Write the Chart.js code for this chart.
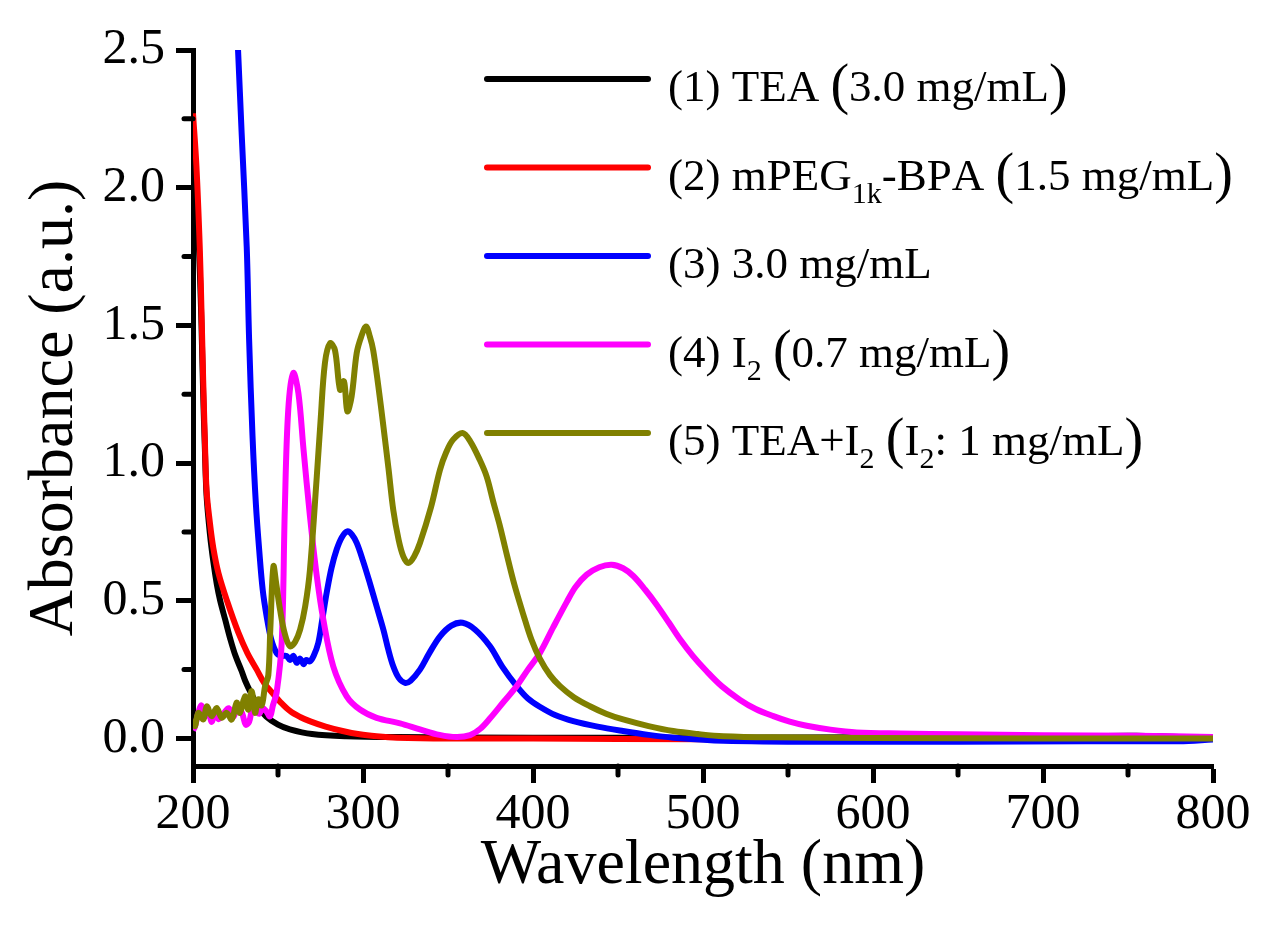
<!DOCTYPE html>
<html>
<head>
<meta charset="utf-8">
<title>UV-Vis absorbance</title>
<script src="https://cdn.jsdelivr.net/npm/chart.js@4.4.1/dist/chart.umd.min.js"></script>
<style>
  html, body { margin: 0; padding: 0; background: #fff; }
  canvas { display: block; }
</style>
</head>
<body>
<canvas id="myChart" width="1282" height="928"></canvas>
<script>
// tick values
const xTicks = [200, 300, 400, 500, 600, 700, 800];
const xMinor = [250, 350, 450, 550, 650, 750];
const yTicks = [0, 0.5, 1.0, 1.5, 2.0, 2.5];
const yMinor = [0.25, 0.75, 1.25, 1.75, 2.25];

const seriesLabels = [
  "(1) TEA (3.0 mg/mL)",
  "(2) mPEG_1k-BPA (1.5 mg/mL)",
  "(3) 3.0 mg/mL",
  "(4) I_2 (0.7 mg/mL)",
  "(5) TEA+I_2 (I_2: 1 mg/mL)"
];
const seriesColors = ["#000000", "#ff0000", "#0000ff", "#ff00ff", "#808000"];

// (1) TEA
const teaX = [200, 202, 204, 205, 206, 207, 208, 210, 212, 214, 216, 219, 222, 225, 228.6, 231, 234.5, 239, 243, 250, 257, 270, 290, 320, 400, 500, 600, 700, 755, 800];
const teaY = [2.2, 2.0, 1.7, 1.5, 1.25, 1.05, 0.88, 0.74, 0.64, 0.56, 0.5, 0.43, 0.36, 0.3, 0.245, 0.205, 0.16, 0.11, 0.08, 0.05, 0.033, 0.016, 0.008, 0.005, 0.003, 0.003, 0.004, 0.006, 0.01, 0.0];

// (2) mPEG1k-BPA
const pegX = [200, 202, 204, 205, 206, 207, 208, 210, 212, 215, 220, 226.7, 232, 237.5, 242, 247, 251, 257, 263, 269, 278, 288, 298, 308, 320, 350, 400, 500, 600, 700, 800];
const pegY = [2.27, 2.08, 1.78, 1.55, 1.3, 1.08, 0.9, 0.78, 0.69, 0.6, 0.5, 0.384, 0.31, 0.25, 0.2, 0.163, 0.135, 0.1, 0.078, 0.062, 0.043, 0.027, 0.015, 0.008, 0.003, 0.0, 0.0, -0.003, -0.002, 0.0, 0.0];

// (3) 3.0 mg/mL
const sampX = [225, 226.5, 228.6, 231.6, 233, 235, 237, 239, 241, 243.3, 246, 249.2, 252, 255, 257, 259, 261, 263, 265, 266.5, 268.8, 271, 273.7, 276, 278.6, 281.5, 284.5, 287.5, 290.8, 293.5, 296.3, 300, 304, 308, 312, 315, 317.8, 321, 324.7, 328, 333.5, 339, 345.3, 352, 358.6, 366, 374.7, 382, 390.4, 397, 404, 413, 423.7, 438, 453, 468, 482.5, 512, 580, 650, 725, 780, 800];
const sampY = [2.7, 2.5, 2.2, 1.785, 1.45, 1.1, 0.85, 0.68, 0.54, 0.444, 0.36, 0.31, 0.3, 0.3, 0.285, 0.3, 0.275, 0.29, 0.27, 0.285, 0.28, 0.3, 0.347, 0.43, 0.528, 0.62, 0.686, 0.73, 0.752, 0.74, 0.71, 0.645, 0.565, 0.48, 0.395, 0.32, 0.262, 0.22, 0.202, 0.21, 0.25, 0.31, 0.371, 0.41, 0.42, 0.395, 0.335, 0.26, 0.19, 0.145, 0.115, 0.085, 0.063, 0.043, 0.027, 0.013, 0.003, -0.008, -0.012, -0.012, -0.01, -0.01, -0.004];

// (4) I2
const iodX = [200, 201, 203, 205, 207, 209, 211, 213, 215, 218, 221, 224, 226, 229, 231, 233, 235, 237, 239, 241, 243, 245.3, 247, 249.2, 252.2, 254, 256, 259, 262, 265, 268.8, 272.8, 276.7, 282.5, 290.4, 298.2, 308, 321.8, 333.5, 345, 355, 363, 369, 375, 383, 390.4, 397, 404, 412, 419.8, 425, 431.6, 439, 446.3, 453, 459, 466, 472.8, 480, 486.5, 494, 502, 511, 521.8, 531, 541.4, 551, 561, 575, 590.4, 616, 651, 700, 754, 800];
const iodY = [0.03, 0.04, 0.09, 0.12, 0.08, 0.1, 0.06, 0.1, 0.07, 0.09, 0.11, 0.08, 0.12, 0.09, 0.05, 0.06, 0.11, 0.1, 0.09, 0.11, 0.1, 0.08, 0.12, 0.167, 0.35, 0.83, 1.19, 1.327, 1.254, 1.05, 0.807, 0.59, 0.43, 0.262, 0.153, 0.105, 0.075, 0.055, 0.033, 0.013, 0.005, 0.012, 0.035, 0.075, 0.135, 0.19, 0.25, 0.31, 0.405, 0.495, 0.55, 0.595, 0.622, 0.631, 0.618, 0.59, 0.54, 0.485, 0.42, 0.36, 0.3, 0.245, 0.19, 0.14, 0.107, 0.081, 0.061, 0.046, 0.032, 0.022, 0.018, 0.015, 0.012, 0.01, 0.005];

// (5) TEA+I2
const mixX = [200, 201.2, 203.1, 206.1, 208.1, 211, 213.9, 216.9, 219.8, 222.8, 225.7, 227.6, 230.6, 232.5, 234.5, 236.5, 238.4, 240.4, 242.4, 244.3, 245.5, 247.3, 249, 251.2, 254, 257, 260, 263, 266, 268.8, 272.8, 275, 277.6, 280.6, 283.5, 286.5, 288.8, 290.8, 293.3, 296.3, 299, 301.8, 304, 306, 309, 312, 315, 317.8, 321, 323.7, 326.6, 330, 333.5, 340, 345.3, 349, 353, 358.6, 363, 368.8, 372.8, 376.6, 380.6, 384.5, 389, 394.3, 399, 404, 410, 415.9, 424, 433.5, 443, 453, 468, 482.5, 497, 512, 541, 600, 700, 800];
const mixY = [0.07, 0.045, 0.093, 0.069, 0.117, 0.081, 0.111, 0.075, 0.093, 0.069, 0.13, 0.093, 0.153, 0.105, 0.172, 0.093, 0.142, 0.12, 0.19, 0.23, 0.4, 0.625, 0.56, 0.468, 0.38, 0.335, 0.35, 0.395, 0.48, 0.613, 0.95, 1.15, 1.363, 1.435, 1.41, 1.266, 1.297, 1.188, 1.242, 1.4, 1.46, 1.496, 1.46, 1.41, 1.28, 1.133, 0.98, 0.83, 0.72, 0.661, 0.637, 0.66, 0.71, 0.84, 0.976, 1.04, 1.085, 1.109, 1.08, 1.01, 0.95, 0.86, 0.77, 0.67, 0.56, 0.45, 0.36, 0.29, 0.23, 0.19, 0.15, 0.117, 0.09, 0.069, 0.045, 0.027, 0.016, 0.008, 0.004, 0.002, 0.0, 0.0];

const seriesX = [teaX, pegX, sampX, iodX, mixX];
const seriesY = [teaY, pegY, sampY, iodY, mixY];

const serif = "'Liberation Serif', 'Times New Roman', serif";
Chart.defaults.font.family = serif;
Chart.defaults.color = "#000";

function toPoints(xs, ys) {
  return xs.map((x, i) => ({ x: x, y: ys[i] }));
}

// legend drawn by hand so the subscripts and tall brackets come out right
const legendPlugin = {
  id: "subLegend",
  afterDraw(chart) {
    const ctx = chart.ctx;
    const x0 = 487, x1 = 648, tx = 668;
    ctx.save();
    chart.data.datasets.forEach((ds, i) => {
      const y = 79 + i * 88.5;
      ctx.strokeStyle = ds.borderColor;
      ctx.lineWidth = 6;
      ctx.lineCap = "round";
      ctx.beginPath();
      ctx.moveTo(x0, y);
      ctx.lineTo(x1, y);
      ctx.stroke();

      const base = y + 22;
      let cx = tx;
      ctx.fillStyle = "#000";
      ctx.textBaseline = "alphabetic";
      const parts = ds.label.split(/_([0-9a-z]+)/);
      parts.forEach((part, k) => {
        if (k % 2 === 1) {
          ctx.font = "30px " + serif;
          ctx.fillText(part, cx, base + 13);
          cx += ctx.measureText(part).width;
          return;
        }
        for (let c = 0; c < part.length; c++) {
          const ch = part[c];
          const big = (ch === "(" || ch === ")") && !(k === 0 && c < 3);
          ctx.font = (big ? "56px " : "45px ") + serif;
          ctx.fillText(ch, cx, big ? base + 2 : base);
          cx += ctx.measureText(ch).width;
        }
      });
    });
    ctx.restore();
  }
};

const minorTicks = {
  id: "minorTicks",
  afterDraw(chart) {
    const ctx = chart.ctx;
    const xs = chart.scales.x, ys = chart.scales.y;
    const area = chart.chartArea;
    ctx.save();
    ctx.strokeStyle = "#000";
    ctx.lineWidth = 5;
    ctx.lineCap = "round";
    xMinor.forEach(v => {
      const px = xs.getPixelForValue(v);
      ctx.beginPath();
      ctx.moveTo(px, area.bottom);
      ctx.lineTo(px, area.bottom + 9);
      ctx.stroke();
    });
    yMinor.forEach(v => {
      const py = ys.getPixelForValue(v);
      ctx.beginPath();
      ctx.moveTo(area.left, py);
      ctx.lineTo(area.left - 9, py);
      ctx.stroke();
    });
    ctx.restore();
  }
};

let ctx = document.getElementById("myChart");
let myChart = new Chart(ctx, {
  type: "line",
  data: {
    datasets: seriesLabels.map((label, i) => ({
      label: label,
      data: toPoints(seriesX[i], seriesY[i]),
      borderColor: seriesColors[i],
      backgroundColor: seriesColors[i],
      borderWidth: 6,
      pointRadius: 0,
      tension: 0.35,
      fill: false,
      order: seriesLabels.length - i
    }))
  },
  options: {
    responsive: false,
    devicePixelRatio: 1,
    animation: false,
    layout: { padding: { top: 50, right: 69, left: 0, bottom: 0 } },
    plugins: {
      legend: { display: false },
      tooltip: { enabled: false }
    },
    scales: {
      x: {
        type: "linear",
        min: 200,
        max: 800,
        afterBuildTicks: (s) => { s.ticks = xTicks.map(v => ({ value: v })); },
        afterFit: (s) => { s.height = 162; },
        ticks: { font: { size: 50 }, color: "#000", padding: 2, maxRotation: 0, autoSkip: false },
        grid: { drawOnChartArea: false, drawTicks: true, tickLength: 17, tickWidth: 5, tickColor: "#000" },
        border: { display: true, color: "#000", width: 5 },
        title: {
          display: true,
          text: "Wavelength (nm)",
          color: "#000",
          font: { size: 64, lineHeight: 1 },
          padding: { top: 0, bottom: 30 }
        }
      },
      y: {
        type: "linear",
        min: -0.1,
        max: 2.5,
        afterBuildTicks: (s) => { s.ticks = yTicks.map(v => ({ value: v })); },
        afterFit: (s) => { s.width = 193; },
        ticks: {
          font: { size: 50 },
          color: "#000",
          padding: 11,
          callback: (v) => Number(v).toFixed(1)
        },
        grid: { drawOnChartArea: false, drawTicks: true, tickLength: 17, tickWidth: 5, tickColor: "#000" },
        border: { display: true, color: "#000", width: 5 },
        title: {
          display: true,
          text: "Absorbance (a.u.)",
          color: "#000",
          font: { size: 64, lineHeight: 1 },
          padding: { top: 23, bottom: 0 }
        }
      }
    }
  },
  plugins: [minorTicks, legendPlugin]
});
</script>
</body>
</html>
